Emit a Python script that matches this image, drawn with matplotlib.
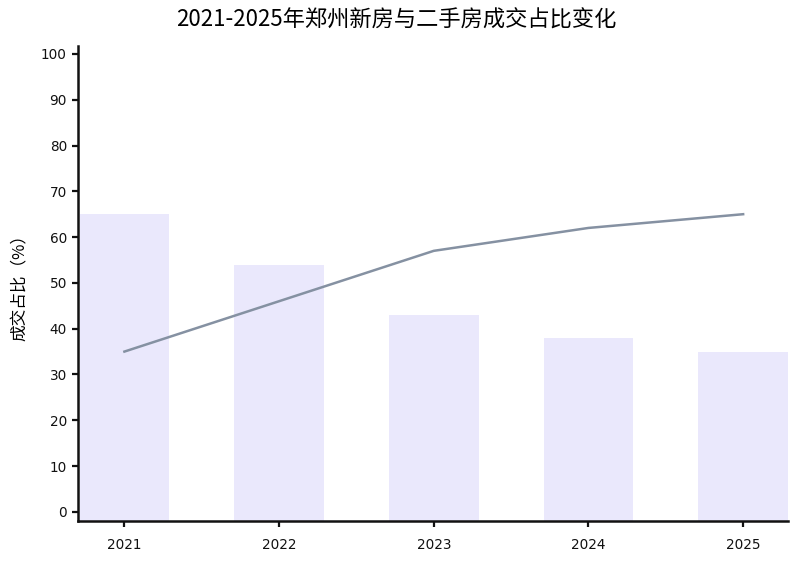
import matplotlib.pyplot as plt
import numpy as np

plt.rcParams['font.family'] = ['Noto Sans CJK SC', 'DejaVu Sans']

# data
years = ['2021', '2022', '2023', '2024', '2025']
new_share = [65, 54, 43, 38, 35]        # bars
second_share = [35, 46, 57, 62, 65]     # line
yticks = list(range(0, 101, 10))

ymin, ymax = -2, 101.7

fig = plt.figure(figsize=(8, 5.64), dpi=100)
ax = fig.add_axes([0.0975, 0.0762, 0.8875, 0.842])

x = np.arange(len(years))
ax.bar(x, np.array(new_share) - ymin, bottom=ymin, width=0.58, color='#EAE8FC', zorder=1)
ax.plot(x, second_share, color='#8591A2', linewidth=1.8, zorder=2)

ax.set_xlim(-0.3, 4.29)
ax.set_ylim(ymin, ymax)
ax.set_xticks(x)
ax.set_xticklabels(years)
ax.set_yticks(yticks)

for s in ['top', 'right']:
    ax.spines[s].set_visible(False)
for s in ['left', 'bottom']:
    ax.spines[s].set_linewidth(1.8)
    ax.spines[s].set_color('#111111')
ax.tick_params(axis='both', length=4, width=1.6, colors='#111111', pad=4)
ax.tick_params(axis='x', pad=8)
for lab in ax.get_xticklabels() + ax.get_yticklabels():
    lab.set_family('DejaVu Sans')
    lab.set_fontsize(9.8)

ax.set_ylabel('成交占比（%）', fontsize=12, labelpad=9)
fig.suptitle('2021-2025年郑州新房与二手房成交占比变化', fontsize=16, fontweight='medium',
             x=0.495, y=0.984)

plt.savefig('out.png', dpi=100)
